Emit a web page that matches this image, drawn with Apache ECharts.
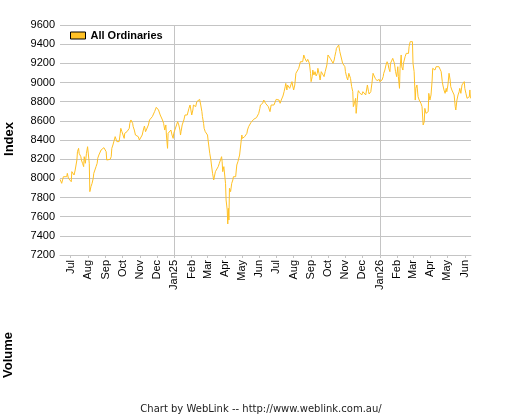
<!DOCTYPE html>
<html>
<head>
<meta charset="utf-8">
<script src="https://cdn.jsdelivr.net/npm/echarts@6/dist/echarts.min.js"></script>
<style>
html,body{margin:0;padding:0;background:#fff;}
#chart{width:525px;height:416px;}
</style>
</head>
<body>
<div id="chart"></div>
<script>
// ---- data ----
const seriesName = 'All Ordinaries';
const axisStart = '2024-06-12';
const axisEnd = '2026-06-12';
const yMin = 7200, yMax = 9600, yStep = 200;
const monthNames = ['Jan','Feb','Mar','Apr','May','Jun','Jul','Aug','Sep','Oct','Nov','Dec'];

const dates = [
'2024-06-12','2024-06-15','2024-06-18','2024-06-21','2024-06-24','2024-06-25','2024-06-27','2024-06-30',
'2024-07-02','2024-07-03','2024-07-06','2024-07-07','2024-07-09','2024-07-12','2024-07-13','2024-07-15','2024-07-16','2024-07-19','2024-07-20','2024-07-22','2024-07-24','2024-07-25','2024-07-27','2024-07-29','2024-07-31',
'2024-08-01','2024-08-03','2024-08-04','2024-08-06','2024-08-08','2024-08-10','2024-08-11','2024-08-13','2024-08-15','2024-08-17','2024-08-18','2024-08-20','2024-08-22','2024-08-24','2024-08-27','2024-08-29','2024-08-31',
'2024-09-02','2024-09-03','2024-09-05','2024-09-06','2024-09-09','2024-09-11','2024-09-12','2024-09-14','2024-09-16','2024-09-18','2024-09-19','2024-09-21','2024-09-23','2024-09-25','2024-09-27','2024-09-28','2024-09-30',
'2024-10-02','2024-10-04','2024-10-05','2024-10-07','2024-10-09','2024-10-11','2024-10-13','2024-10-14','2024-10-16','2024-10-18','2024-10-19','2024-10-20','2024-10-22','2024-10-24','2024-10-26','2024-10-27','2024-10-29','2024-10-31',
'2024-11-02','2024-11-03','2024-11-05','2024-11-07','2024-11-09','2024-11-11','2024-11-12','2024-11-14','2024-11-16','2024-11-18','2024-11-19','2024-11-21','2024-11-23','2024-11-25','2024-11-27','2024-11-28','2024-11-30',
'2024-12-02','2024-12-04','2024-12-05','2024-12-07','2024-12-09','2024-12-11','2024-12-13','2024-12-15','2024-12-17','2024-12-18','2024-12-20','2024-12-21','2024-12-23','2024-12-24','2024-12-26','2024-12-28','2024-12-30','2024-12-31',
'2025-01-02','2025-01-03','2025-01-05','2025-01-07','2025-01-09','2025-01-11','2025-01-12','2025-01-13','2025-01-15','2025-01-16','2025-01-18','2025-01-20','2025-01-22','2025-01-24','2025-01-25','2025-01-27','2025-01-29','2025-01-31',
'2025-02-01','2025-02-03','2025-02-04','2025-02-06','2025-02-08','2025-02-10','2025-02-11','2025-02-13','2025-02-15','2025-02-17','2025-02-19','2025-02-20','2025-02-22','2025-02-23','2025-02-25','2025-02-27',
'2025-03-01','2025-03-02','2025-03-04','2025-03-05','2025-03-07','2025-03-08','2025-03-10','2025-03-12','2025-03-13','2025-03-15','2025-03-17','2025-03-18','2025-03-20','2025-03-22','2025-03-24','2025-03-26','2025-03-27','2025-03-28','2025-03-30',
'2025-04-01','2025-04-02','2025-04-03','2025-04-05','2025-04-06','2025-04-07','2025-04-08','2025-04-09','2025-04-11','2025-04-13','2025-04-15','2025-04-16','2025-04-18','2025-04-20','2025-04-22','2025-04-24','2025-04-25','2025-04-27','2025-04-29',
'2025-05-01','2025-05-02','2025-05-04','2025-05-06','2025-05-08','2025-05-10','2025-05-11','2025-05-13','2025-05-15','2025-05-17','2025-05-18','2025-05-20','2025-05-22','2025-05-24','2025-05-25','2025-05-27','2025-05-29','2025-05-31',
'2025-06-02','2025-06-03','2025-06-05','2025-06-07','2025-06-09','2025-06-10','2025-06-12','2025-06-13','2025-06-15','2025-06-17','2025-06-18','2025-06-20','2025-06-22','2025-06-24','2025-06-25','2025-06-27','2025-06-29',
'2025-07-01','2025-07-02','2025-07-04','2025-07-06','2025-07-08','2025-07-10','2025-07-11','2025-07-13','2025-07-15','2025-07-17','2025-07-18','2025-07-20','2025-07-21','2025-07-23','2025-07-25','2025-07-27','2025-07-29','2025-07-30',
'2025-08-01','2025-08-03','2025-08-05','2025-08-06','2025-08-08','2025-08-10','2025-08-12','2025-08-13','2025-08-15','2025-08-17','2025-08-19','2025-08-21','2025-08-22','2025-08-24','2025-08-26','2025-08-28','2025-08-29','2025-08-31',
'2025-09-01','2025-09-03','2025-09-04','2025-09-06','2025-09-08','2025-09-10','2025-09-12','2025-09-13','2025-09-15','2025-09-17','2025-09-19','2025-09-20','2025-09-22','2025-09-24','2025-09-26','2025-09-27','2025-09-29',
'2025-10-01','2025-10-03','2025-10-05','2025-10-06','2025-10-08','2025-10-10','2025-10-12','2025-10-13','2025-10-15','2025-10-16','2025-10-18','2025-10-20','2025-10-22','2025-10-24','2025-10-25','2025-10-27','2025-10-29','2025-10-31',
'2025-11-01','2025-11-03','2025-11-05','2025-11-07','2025-11-09','2025-11-10','2025-11-12','2025-11-14','2025-11-15','2025-11-16','2025-11-17','2025-11-19','2025-11-20','2025-11-21','2025-11-23','2025-11-24','2025-11-26','2025-11-28','2025-11-30',
'2025-12-02','2025-12-03','2025-12-05','2025-12-07','2025-12-09','2025-12-10','2025-12-12','2025-12-13','2025-12-15','2025-12-16','2025-12-18','2025-12-20','2025-12-22','2025-12-24','2025-12-25','2025-12-27','2025-12-29','2025-12-31',
'2026-01-01','2026-01-03','2026-01-05','2026-01-07','2026-01-08','2026-01-10','2026-01-12','2026-01-14','2026-01-16','2026-01-17','2026-01-19','2026-01-20','2026-01-22','2026-01-24','2026-01-26','2026-01-27','2026-01-29','2026-01-31',
'2026-02-02','2026-02-03','2026-02-05','2026-02-06','2026-02-08','2026-02-09','2026-02-11','2026-02-12','2026-02-14','2026-02-15','2026-02-17','2026-02-19','2026-02-21','2026-02-22','2026-02-24','2026-02-26','2026-02-28',
'2026-03-01','2026-03-03','2026-03-04','2026-03-05','2026-03-06','2026-03-08','2026-03-10','2026-03-12','2026-03-13','2026-03-15','2026-03-17','2026-03-19','2026-03-21','2026-03-22','2026-03-24','2026-03-26','2026-03-28','2026-03-29','2026-03-31',
'2026-04-02','2026-04-04','2026-04-05','2026-04-07','2026-04-09','2026-04-11','2026-04-13','2026-04-14','2026-04-16','2026-04-18','2026-04-20','2026-04-22','2026-04-23','2026-04-25','2026-04-27','2026-04-29','2026-04-30',
'2026-05-02','2026-05-04','2026-05-06','2026-05-07','2026-05-09','2026-05-11','2026-05-13','2026-05-15','2026-05-16','2026-05-18','2026-05-20','2026-05-22','2026-05-23','2026-05-25','2026-05-27','2026-05-29','2026-05-31',
'2026-06-01','2026-06-03','2026-06-05','2026-06-07','2026-06-09','2026-06-10','2026-06-11'
];

const values = [
7990,7948,8017,8035,8017,8052,8000,8017,
7965,8070,8052,8035,8087,8191,8278,8313,8261,8226,8191,8157,8122,8226,8157,8261,8330,
8348,8157,7861,7913,7948,8000,8052,8087,8122,8157,8209,8243,8261,8296,8313,8320,8330,
8278,8191,8174,8209,8198,8226,8313,8348,8365,8435,8417,8383,8400,8383,8470,8522,8487,
8452,8417,8470,8452,8487,8504,8522,8574,8609,8609,8574,8539,8504,8452,8470,8452,8435,8400,
8383,8417,8452,8504,8546,8487,8470,8504,8557,8609,8626,8609,8644,8661,8696,8713,8741,
8741,8713,8696,8661,8644,8609,8574,8504,8557,8452,8313,8470,8487,8470,8504,8452,8417,8470,
8504,8522,8557,8591,8557,8504,8452,8487,8557,8574,8609,8661,8644,8661,8661,8730,8765,8748,
8661,8713,8765,8783,8748,8800,8783,8810,8824,8765,8696,8644,8574,8522,8487,8504,
8452,8400,8383,8261,8191,8139,8052,7983,7965,8070,8087,8070,8122,8157,8191,8226,8174,8070,8122,
8122,7948,7774,7670,7524,7687,7565,7896,7861,7948,7983,8017,8017,8017,8139,8174,8191,8243,8348,
8452,8417,8400,8435,8452,8470,8504,8539,8557,8581,8574,8591,8616,8609,8626,8633,8644,8678,
8730,8765,8755,8783,8817,8800,8783,8776,8765,8748,8730,8696,8765,8765,8748,8765,8783,
8824,8835,8817,8817,8783,8817,8835,8859,8904,8957,8991,8922,8974,8957,8939,8974,9009,8974,
8922,8974,9096,9103,9089,9148,9165,9217,9235,9217,9287,9252,9235,9217,9242,9242,9200,9096,
9009,9061,9130,9078,9113,9068,9096,9148,9096,9026,9113,9096,9130,9061,9113,9130,9183,
9287,9270,9252,9270,9235,9200,9235,9270,9322,9357,9339,9391,9322,9339,9304,9200,9183,9165,
9113,9061,9026,9096,9078,9043,8957,8904,8748,8730,8783,8835,8678,8741,8887,8915,8894,8887,8870,
8904,8915,8887,8870,8870,8974,8904,8880,8870,8904,8991,9096,9068,9043,9026,9019,9026,9033,
9009,8991,9026,9061,9096,9130,9183,9217,9183,9148,9113,9200,9217,9252,9242,9200,9113,9061,
9165,9061,8939,9148,9287,9165,9130,9200,9217,9270,9304,9287,9304,9374,9426,9433,9426,
9200,9113,9130,8817,8939,8974,8852,8817,8835,8783,8748,8557,8591,8730,8678,8661,8696,8887,8817,
8870,9026,9148,9148,9130,9165,9172,9165,9165,9165,9113,9009,8974,8922,8887,8939,8904,
8974,9096,9026,8957,8922,8904,8870,8748,8713,8817,8870,8904,8939,8887,8974,8974,9009,
8939,8887,8835,8852,8852,8922,8835
];

// ---- build calendar-day category axis ----
function buildDays(a, b) {
  const out = [];
  const pa = a.split('-').map(Number), pb = b.split('-').map(Number);
  let t = Date.UTC(pa[0], pa[1]-1, pa[2]);
  const end = Date.UTC(pb[0], pb[1]-1, pb[2]);
  while (t <= end) {
    const d = new Date(t);
    out.push(d.getUTCFullYear() + '-' + String(d.getUTCMonth()+1).padStart(2,'0') + '-' + String(d.getUTCDate()).padStart(2,'0'));
    t += 86400000;
  }
  return out;
}
const days = buildDays(axisStart, axisEnd);
const isMonthStart = (i, v) => v.slice(8) === '01';
const isYearStart = (i, v) => v.slice(5) === '01-01';

const chart = echarts.init(document.getElementById('chart'), null, {renderer: 'canvas'});
const gridColor = '#c4c4c4';
chart.setOption({
  animation: false,
  backgroundColor: '#ffffff',
  grid: {left: 60, right: 54, top: 25, bottom: 161, containLabel: false},
  legend: {
    left: 70, top: 30, padding: 0,
    icon: 'rect', itemWidth: 15, itemHeight: 7, itemGap: 10,
    itemStyle: {color: '#FFC125', borderColor: '#000', borderWidth: 1},
    textStyle: {fontFamily: 'Liberation Sans, Arial, sans-serif', fontSize: 11, fontWeight: 'bold', color: '#000'},
    data: [seriesName]
  },
  xAxis: {
    type: 'category',
    data: days,
    boundaryGap: false,
    axisLine: {show: true, lineStyle: {color: gridColor, width: 1}},
    axisTick: {show: true, interval: isMonthStart, length: 3, lineStyle: {color: gridColor}},
    axisLabel: {
      interval: isMonthStart,
      rotate: 90,
      margin: 5,
      fontFamily: 'Liberation Sans, Arial, sans-serif',
      fontSize: 11,
      color: '#000',
      formatter: function (v) {
        const m = Number(v.slice(5, 7)) - 1;
        return m === 0 ? 'Jan' + v.slice(2, 4) : monthNames[m];
      }
    },
    splitLine: {show: true, interval: isYearStart, lineStyle: {color: gridColor, width: 1}}
  },
  yAxis: {
    type: 'value',
    min: yMin, max: yMax, interval: yStep,
    axisLine: {show: false},
    axisTick: {show: false},
    axisLabel: {fontFamily: 'Liberation Sans, Arial, sans-serif', fontSize: 11, color: '#000', margin: 5,
      formatter: v => String(v)},
    splitLine: {show: true, lineStyle: {color: gridColor, width: 1}}
  },
  series: [{
    name: seriesName,
    type: 'line',
    data: dates.map((d, i) => [d, values[i]]),
    showSymbol: false,
    symbol: 'none',
    itemStyle: {color: '#FFC125'},
    lineStyle: {color: '#FFC125', width: 1},
    z: 3
  }],
  graphic: [
    {type: 'text', x: 9, y: 139, rotation: Math.PI/2,
     style: {text: 'Index', fontFamily: 'Liberation Sans, Arial, sans-serif', fontSize: 13, fontWeight: 'bold', fill: '#000', align: 'center', verticalAlign: 'middle'}},
    {type: 'text', x: 8, y: 355, rotation: Math.PI/2,
     style: {text: 'Volume', fontFamily: 'Liberation Sans, Arial, sans-serif', fontSize: 13, fontWeight: 'bold', fill: '#000', align: 'center', verticalAlign: 'middle'}},
    {type: 'text', x: 261, y: 409,
     style: {text: 'Chart by WebLink -- http://www.weblink.com.au/', fontFamily: 'DejaVu Sans, sans-serif', fontSize: 10, fill: '#222', align: 'center', verticalAlign: 'middle'}}
  ]
});
</script>
</body>
</html>
